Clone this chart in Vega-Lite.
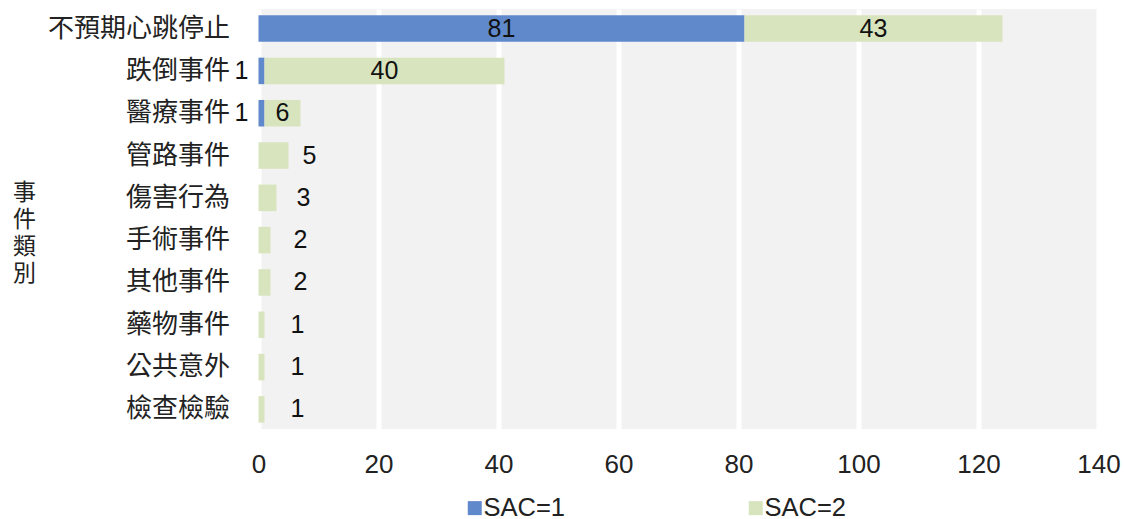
{
  "$schema": "https://vega.github.io/schema/vega-lite/v6.json",
  "autosize": "none",
  "width": 840,
  "height": 420,
  "padding": {"left": 258.5, "top": 9, "right": 25.5, "bottom": 90},
  "background": "white",
  "config": {
    "view": {"fill": "#f2f2f2", "stroke": null},
    "font": "Liberation Sans"
  },
  "data": {
    "values": [
      {"category": "不預期心跳停止", "SAC": "SAC=1", "value": 81},
      {"category": "不預期心跳停止", "SAC": "SAC=2", "value": 43},
      {"category": "跌倒事件", "SAC": "SAC=1", "value": 1},
      {"category": "跌倒事件", "SAC": "SAC=2", "value": 40},
      {"category": "醫療事件", "SAC": "SAC=1", "value": 1},
      {"category": "醫療事件", "SAC": "SAC=2", "value": 6},
      {"category": "管路事件", "SAC": "SAC=2", "value": 5},
      {"category": "傷害行為", "SAC": "SAC=2", "value": 3},
      {"category": "手術事件", "SAC": "SAC=2", "value": 2},
      {"category": "其他事件", "SAC": "SAC=2", "value": 2},
      {"category": "藥物事件", "SAC": "SAC=2", "value": 1},
      {"category": "公共意外", "SAC": "SAC=2", "value": 1},
      {"category": "檢查檢驗", "SAC": "SAC=2", "value": 1}
    ]
  },
  "encoding": {
    "y": {
      "field": "category",
      "type": "nominal",
      "sort": ["不預期心跳停止", "跌倒事件", "醫療事件", "管路事件", "傷害行為", "手術事件", "其他事件", "藥物事件", "公共意外", "檢查檢驗"],
      "scale": {"paddingInner": 0.373, "paddingOuter": 0.15},
      "axis": {
        "title": ["事", "件", "類", "別"],
        "titleAngle": 0,
        "titleFont": "Noto Sans CJK TC",
        "titleFontSize": 23,
        "titleFontWeight": "normal",
        "titleColor": "#222222",
        "titleLineHeight": 27,
        "titleX": -234.5,
        "titleY": 172,
        "titleAlign": "center",
        "titleBaseline": "top",
        "labelFont": "Noto Sans CJK TC",
        "labelFontSize": 26,
        "labelColor": "#222222",
        "labelPadding": 29,
        "labelLimit": 400,
        "ticks": false,
        "tickSize": 0,
        "domain": false,
        "grid": false
      }
    }
  },
  "layer": [
    {
      "mark": {"type": "bar"},
      "encoding": {
        "x": {
          "field": "value",
          "type": "quantitative",
          "stack": "zero",
          "scale": {"domain": [0, 140], "nice": false},
          "axis": {
            "title": null,
            "values": [0, 20, 40, 60, 80, 100, 120, 140],
            "labelFont": "Liberation Sans",
            "labelFontSize": 26,
            "labelColor": "#222222",
            "labelPadding": 22,
            "labelFlush": false,
            "ticks": false,
            "tickSize": 0,
            "domain": false,
            "grid": true,
            "gridColor": "#ffffff",
            "gridWidth": 5,
            "gridOpacity": 1
          }
        },
        "order": {"field": "SAC", "type": "ordinal", "sort": "ascending"},
        "color": {
          "field": "SAC",
          "type": "nominal",
          "scale": {"domain": ["SAC=1", "SAC=2"], "range": ["#6089cc", "#d8e4bd"]},
          "legend": {
            "orient": "none",
            "legendX": 203.5,
            "legendY": 486,
            "padding": 0,
            "direction": "horizontal",
            "title": null,
            "symbolType": "square",
            "symbolSize": 196,
            "symbolStrokeWidth": 0,
            "symbolOpacity": 1,
            "labelFont": "Liberation Sans",
            "labelFontSize": 25.5,
            "labelColor": "#222222",
            "labelOffset": -4,
            "columnPadding": 177
          }
        }
      }
    },
    {
      "mark": {"type": "text", "font": "Liberation Sans", "fontSize": 25, "color": "#111111"},
      "encoding": {
        "x": {"field": "value", "type": "quantitative", "stack": "zero", "bandPosition": 0.5},
        "detail": {"field": "SAC"},
        "order": {"field": "SAC", "type": "ordinal", "sort": "ascending"},
        "text": {"condition": {"test": "datum.value >= 6", "field": "value", "type": "quantitative"}, "value": ""}
      }
    },
    {
      "mark": {"type": "text", "font": "Liberation Sans", "fontSize": 25, "color": "#111111", "dx": 36},
      "encoding": {
        "x": {"field": "value", "type": "quantitative", "stack": "zero", "bandPosition": 0.5},
        "detail": {"field": "SAC"},
        "order": {"field": "SAC", "type": "ordinal", "sort": "ascending"},
        "text": {"condition": {"test": "datum.value < 6 && datum.SAC === 'SAC=2'", "field": "value", "type": "quantitative"}, "value": ""}
      }
    },
    {
      "mark": {"type": "text", "font": "Liberation Sans", "fontSize": 25, "color": "#111111", "dx": -20},
      "encoding": {
        "x": {"field": "value", "type": "quantitative", "stack": "zero", "bandPosition": 0.5},
        "detail": {"field": "SAC"},
        "order": {"field": "SAC", "type": "ordinal", "sort": "ascending"},
        "text": {"condition": {"test": "datum.value < 6 && datum.SAC === 'SAC=1'", "field": "value", "type": "quantitative"}, "value": ""}
      }
    }
  ]
}
